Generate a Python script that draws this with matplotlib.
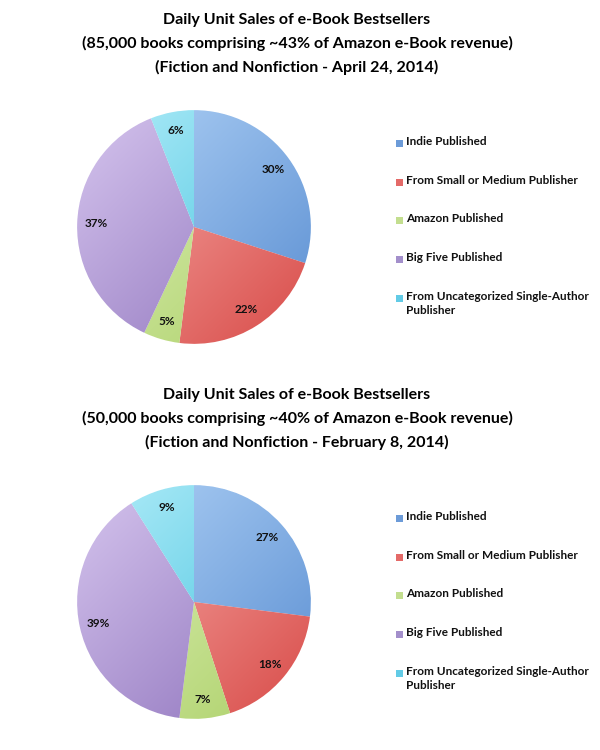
import numpy as np
import matplotlib
matplotlib.use('Agg')
import matplotlib.pyplot as plt
from matplotlib.colors import to_rgb
from matplotlib.patches import Rectangle

plt.rcParams['font.family'] = ['Lato', 'DejaVu Sans']

labels = ['Indie Published', 'From Small or Medium Publisher', 'Amazon Published',
          'Big Five Published', 'From Uncategorized Single-Author\nPublisher']
april_share = [30, 22, 5, 37, 6]
feb_share = [27, 18, 7, 39, 9]

april_title = ('Daily Unit Sales of e-Book Bestsellers\n'
               '(85,000 books comprising ~43% of Amazon e-Book revenue)\n'
               '(Fiction and Nonfiction - April 24, 2014)')
feb_title = ('Daily Unit Sales of e-Book Bestsellers\n'
             '(50,000 books comprising ~40% of Amazon e-Book revenue)\n'
             '(Fiction and Nonfiction - February 8, 2014)')

# light (top-left) / dark (bottom-right) shade per slice
light = ['#a9ccf3', '#f6aaa6', '#dcefb6', '#cdbbe8', '#a6e8f6']
dark = ['#6496d6', '#dc5754', '#b2d471', '#9479c0', '#48c4df']
legend_cols = ['#6c9bd8', '#e46a68', '#c3de8f', '#a38fcb', '#62cbe6']

W, H = 600, 750
fig = plt.figure(figsize=(6, 7.5), dpi=100)
fig.patch.set_facecolor('white')


def draw_block(values, title, top_px):
    # title
    fig.text(297 / W, 1 - (top_px + 13) / H, title, ha='center', va='top',
             fontsize=11.5, fontweight='bold', linespacing=1.75)
    # pie
    cy = top_px + 227
    r = 118
    ax = fig.add_axes([(194 - r) / W, 1 - (cy + r) / H, 2 * r / W, 2 * r / H])
    wedges, texts, autotexts = ax.pie(values, startangle=90, counterclock=False,
                                      colors=light, autopct='%1.0f%%', pctdistance=0.84,
                                      wedgeprops=dict(linewidth=0.6, edgecolor='white'),
                                      textprops=dict(fontsize=8.5, fontweight='bold', color='#111111'))
    # diagonal shading inside each wedge
    n = 200
    xs = np.linspace(-1, 1, n)
    gx, gy = np.meshgrid(xs, xs[::-1])
    t = np.clip((gx - gy + 2) / 4 * 1.3 - 0.15, 0, 1)[..., None]
    for w, lc, dc in zip(wedges, light, dark):
        img = np.array(to_rgb(lc)) * (1 - t) + np.array(to_rgb(dc)) * t
        im = ax.imshow(img, extent=(-1, 1, -1, 1), zorder=w.get_zorder() + 0.1)
        im.set_clip_path(w)
    for a in autotexts:
        a.set_zorder(10)
    ax.set_xlim(-1.01, 1.01)
    ax.set_ylim(-1.01, 1.01)
    ax.set_aspect('equal')
    ax.axis('off')
    # legend
    ys = [143, 182, 220, 259, 298]
    for lab, col, y in zip(labels, legend_cols, ys):
        yy = top_px + y
        fig.patches.append(Rectangle((396 / W, 1 - (yy + 4) / H), 7 / W, 7 / H,
                                     transform=fig.transFigure, facecolor=col,
                                     edgecolor='none'))
        fig.text(406 / W, 1 - (yy - 7) / H, lab, ha='left', va='top',
                 fontsize=8.5, fontweight='bold', color='#111111', linespacing=1.35)


draw_block(april_share, april_title, 0)
draw_block(feb_share, feb_title, 375)

fig.savefig('out.png', dpi=100, facecolor='white')
